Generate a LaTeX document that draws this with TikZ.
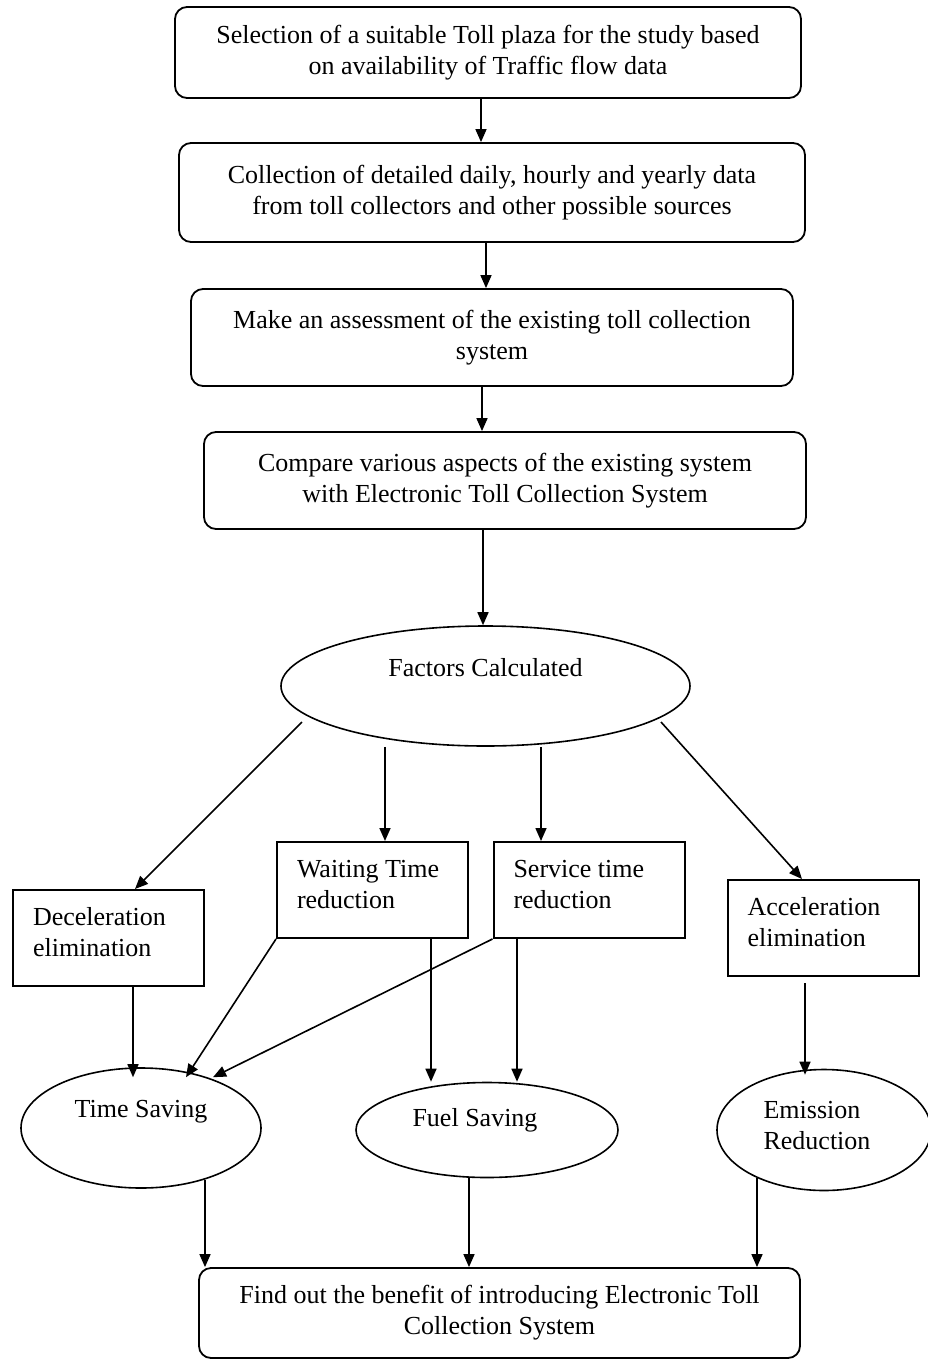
\documentclass[tikz,border=0pt]{standalone}
\usepackage{fontspec}
\setmainfont{Liberation Serif}
\usetikzlibrary{arrows.meta,shapes.geometric}
\tikzset{
	stage/.style={draw,rounded corners=6pt,line width=0.9pt,align=center,inner sep=0pt},
	factor/.style={draw,line width=1pt,text width=75.5pt,align=flush left,inner xsep=10pt,
		inner ysep=0pt,text height=17.5pt,text depth=30.5pt},
	gain/.style={draw,ellipse,line width=0.8pt,inner sep=0pt},
	arr/.style={-{Triangle[length=6.5pt,width=5.5pt]},line width=0.8pt}
}
\begin{document}
\begin{tikzpicture}[x=0.5pt,y=-0.5pt,font=\fontsize{13pt}{15.5pt}\selectfont]
	\useasboundingbox (0,0) rectangle (927,1360);
	% steps of the study
	\node[stage,minimum width=313pt,minimum height=45.5pt] (sel) at (488,52.5)
		{Selection of a suitable Toll plaza for the study based\\on availability of Traffic flow data};
	\node[stage,minimum width=313pt,minimum height=49.5pt] (col) at (492,192.5)
		{Collection of detailed daily, hourly and yearly data\\from toll collectors and other possible sources};
	\node[stage,minimum width=301pt,minimum height=48.5pt] (ass) at (492,337.5)
		{Make an assessment of the existing toll collection\\system};
	\node[stage,minimum width=301pt,minimum height=48.5pt] (cmp) at (505,480.5)
		{Compare various aspects of the existing system\\with Electronic Toll Collection System};
	\node[gain,minimum width=204.5pt,minimum height=60pt,
		label={[yshift=9pt]center:Factors Calculated}] (fac) at (485.5,686) {};
	
	\draw[arr] ([xshift=-3.5pt]sel.south) -- ([xshift=-3.5pt]sel.south |- col.north);
	\draw[arr] ([xshift=-3pt]col.south) -- ([xshift=-3pt]col.south |- ass.north);
	\draw[arr] ([xshift=-5pt]ass.south) -- ([xshift=-5pt]ass.south |- cmp.north);
	\draw[arr] ([xshift=-11pt]cmp.south) -- ([xshift=-11pt]cmp.south |- fac.north);
	
	% factors
	\node[factor] (dec) at (108.5,938) {Deceleration\\elimination};
	\node[factor] (wai) at (372.5,890) {Waiting Time\\reduction};
	\node[factor] (ser) at (589,890) {Service time\\reduction};
	\node[factor] (acc) at (823,928) {Acceleration\\elimination};
	
	\draw[arr] ([shift={(-91.75pt,-18pt)}]fac.center) -- ([xshift=13.25pt]dec.north);
	\draw[arr] ([xshift=6.25pt]wai.north |- fac.south) -- ([xshift=6.25pt]wai.north);
	\draw[arr] ([xshift=-24pt]ser.north |- fac.south) -- ([xshift=-24pt]ser.north);
	\draw[arr] ([shift={(87.75pt,-18pt)}]fac.center) -- ([xshift=-10.5pt]acc.north);
	
	% savings
	\node[gain,minimum width=120pt,minimum height=60pt,
		label={[yshift=8pt]center:Time Saving}] (tim) at (141,1128) {};
	\node[gain,minimum width=131pt,minimum height=47.5pt,
		label={[xshift=-6pt,yshift=5pt]center:Fuel Saving}] (ful) at (487,1130) {};
	\node[gain,minimum width=107pt,minimum height=60.5pt,
		label={[align=left,xshift=-3.5pt,yshift=2pt]center:Emission\\Reduction}] (emi) at (824,1130) {};
	
	\draw[arr,shorten >=-5pt] ([xshift=12.25pt]dec.south) -- ([xshift=12.25pt]dec.south |- tim.north);
	\draw[arr] (wai.south west) -- ([shift={(22.5pt,-5pt)}]tim.north);
	\draw[arr] (ser.south west) -- ([shift={(36pt,-5pt)}]tim.north);
	\draw[arr] ([xshift=29.25pt]wai.south) -- ([xshift=29.25pt]wai.south |- ful.north);
	\draw[arr] ([xshift=-36pt]ser.south) -- ([xshift=-36pt]ser.south |- ful.north);
	\draw[arr,shorten >=-3pt] ([shift={(-9pt,-3pt)}]acc.south) -- ([xshift=-9pt]acc.south |- emi.north);
	
	% result
	\node[stage,minimum width=300.5pt,minimum height=45pt] (fnd) at (499.5,1313)
		{Find out the benefit of introducing Electronic Toll\\Collection System};
	
	\draw[arr] ([shift={(32pt,4.5pt)}]tim.south) -- ([xshift=-147.25pt]fnd.north);
	\draw[arr] ([xshift=-9pt]ful.south) -- ([xshift=-9pt]ful.south |- fnd.north);
	\draw[arr] ([shift={(-33.5pt,6.5pt)}]emi.south) -- ([xshift=-33.5pt]emi.south |- fnd.north);
\end{tikzpicture}
\end{document}
